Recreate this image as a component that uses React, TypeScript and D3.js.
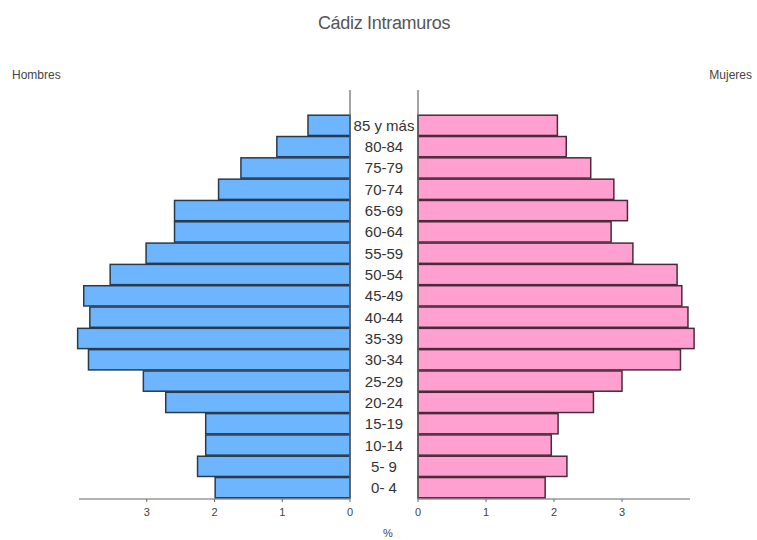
import React from "react";
import * as d3 from "d3";

const ageGroups = ["85 y más","80-84","75-79","70-74","65-69","60-64","55-59","50-54","45-49","40-44","35-39","30-34","25-29","20-24","15-19","10-14","5- 9","0- 4"];
const hombres = [0.62,1.08,1.61,1.94,2.59,2.59,3.01,3.54,3.93,3.84,4.02,3.86,3.05,2.72,2.13,2.13,2.25,1.99];
const mujeres = [2.05,2.18,2.54,2.88,3.08,2.84,3.16,3.81,3.88,3.97,4.06,3.86,3.0,2.58,2.06,1.96,2.19,1.87];
const ticks = [0,1,2,3];
const title = "Cádiz Intramuros";

export default function App() {
  const W = 757, H = 540;
  const y = d3.scaleBand<string>().domain(ageGroups).range([115, 498]).paddingInner(0.05).paddingOuter(0.01);
  const xL = d3.scaleLinear().domain([0, 4]).range([350, 79]);
  const xR = d3.scaleLinear().domain([0, 4]).range([418, 690]);
  const axisY = 499;
  const font = "Liberation Sans, Arial, sans-serif";
  return (
    <svg width={W} height={H} style={{ position: "absolute", left: 0, top: 0, background: "#fff" }} fontFamily={font}>
      <text x={384} y={29} textAnchor="middle" fontSize={18} fill="#555" letterSpacing={-0.3}>{title}</text>
      <text x={12} y={79} fontSize={12} fill="#444">Hombres</text>
      <text x={752} y={79} fontSize={12} fill="#444" textAnchor="end">Mujeres</text>
      {ageGroups.map((g, i) => (
        <rect key={"h" + g} x={xL(hombres[i])} y={y(g)} width={xL(0) - xL(hombres[i])} height={y.bandwidth()}
          fill="#6db6ff" stroke="#2a3a4a" strokeWidth={1.5} />
      ))}
      {ageGroups.map((g, i) => (
        <rect key={"m" + g} x={xR(0)} y={y(g)} width={xR(mujeres[i]) - xR(0)} height={y.bandwidth()}
          fill="#ffa0d0" stroke="#4a2a3a" strokeWidth={1.5} />
      ))}
      <line x1={xL(0)} x2={xL(0)} y1={90} y2={axisY} stroke="#666" strokeWidth={1.2} />
      <line x1={xR(0)} x2={xR(0)} y1={90} y2={axisY} stroke="#666" strokeWidth={1.2} />
      {ageGroups.map((g) => (
        <text key={"l" + g} x={384} y={(y(g) as number) + y.bandwidth() / 2 + 5.5} textAnchor="middle" fontSize={15} fill="#333">{g}</text>
      ))}
      <line x1={xL(4)} x2={xL(0)} y1={axisY} y2={axisY} stroke="#666" strokeWidth={1.2} />
      <line x1={xR(0)} x2={xR(4)} y1={axisY} y2={axisY} stroke="#666" strokeWidth={1.2} />
      {ticks.map((t) => (
        <g key={"tl" + t}>
          <line x1={xL(t)} x2={xL(t)} y1={axisY} y2={axisY + 3} stroke="#666" />
          <text x={xL(t)} y={axisY + 17} textAnchor="middle" fontSize={11} fill="#444">{t}</text>
        </g>
      ))}
      {ticks.map((t) => (
        <g key={"tr" + t}>
          <line x1={xR(t)} x2={xR(t)} y1={axisY} y2={axisY + 3} stroke="#666" />
          <text x={xR(t)} y={axisY + 17} textAnchor="middle" fontSize={11} fill="#444">{t}</text>
        </g>
      ))}
      <text x={388} y={537} textAnchor="middle" fontSize={11} fill="#444">%</text>
    </svg>
  );
}
